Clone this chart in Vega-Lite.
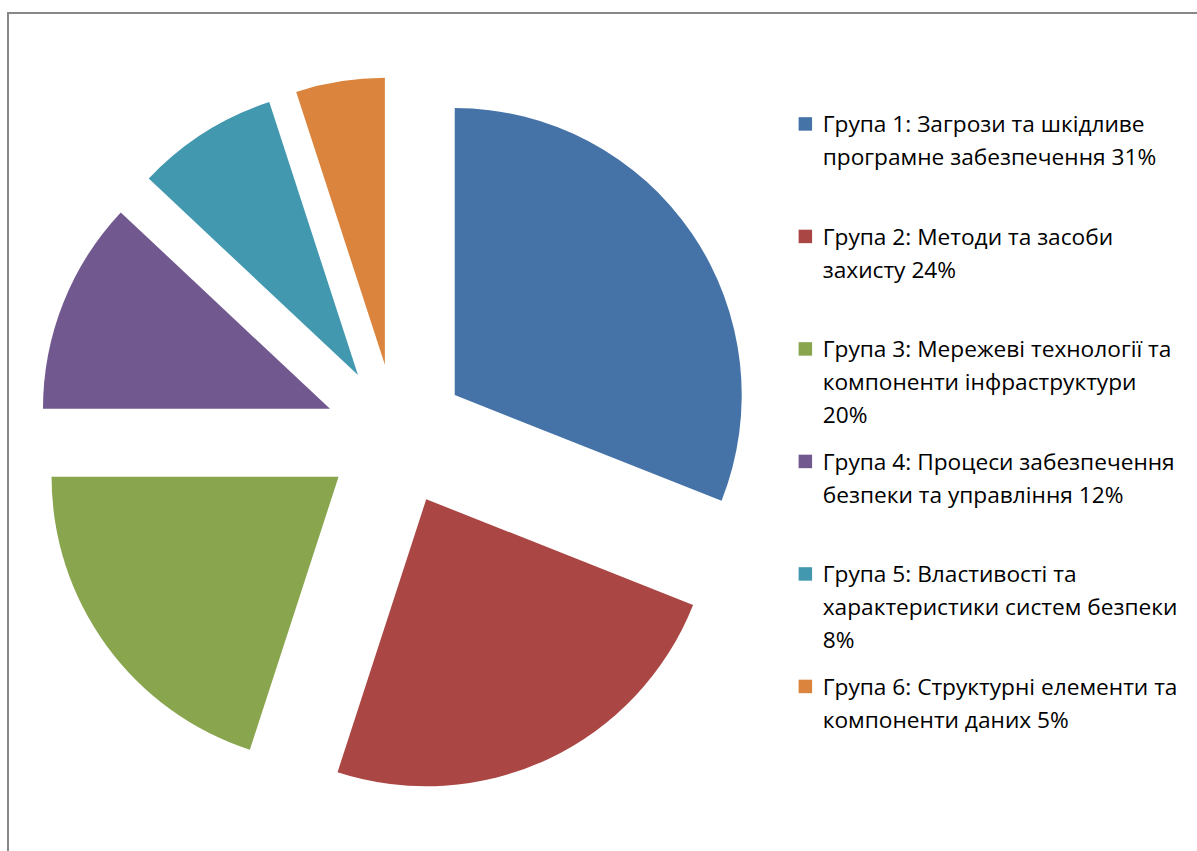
{
  "$schema": "https://vega.github.io/schema/vega-lite/v6.json",
  "width": 1189,
  "height": 838,
  "padding": {"left": 8, "top": 13, "right": 0, "bottom": 0},
  "autosize": {"type": "none"},
  "background": "white",
  "view": {"stroke": "#878787", "strokeWidth": 2, "strokeDash": [1189, 2027, 838]},
  "data": {
    "values": [
      {"group": "Група 1: Загрози та шкідливе програмне забезпечення", "pct": 31},
      {"group": "Група 2: Методи та засоби захисту", "pct": 24},
      {"group": "Група 3: Мережеві технології та компоненти інфраструктури", "pct": 20},
      {"group": "Група 4: Процеси забезпечення безпеки та управління", "pct": 12},
      {"group": "Група 5: Властивості та характеристики систем безпеки", "pct": 8},
      {"group": "Група 6: Структурні елементи та компоненти даних", "pct": 5}
    ]
  },
  "mark": {
    "type": "arc",
    "outerRadius": 287,
    "x": {"expr": "width*388/1189"},
    "y": {"expr": "height*422/838"},
    "xOffset": {"expr": "71*sin(scale('theta',(datum.pct_start+datum.pct_end)/2))"},
    "yOffset": {"expr": "-71*cos(scale('theta',(datum.pct_start+datum.pct_end)/2))"}
  },
  "encoding": {
    "theta": {"field": "pct", "type": "quantitative", "stack": true},
    "order": {"field": "group", "type": "nominal"},
    "color": {
      "field": "group",
      "type": "nominal",
      "scale": {"range": ["#4572A7", "#AA4643", "#89A54E", "#71588F", "#4198AF", "#DB843D"]},
      "legend": {
        "title": null,
        "orient": "none",
        "direction": "vertical",
        "legendX": 786,
        "legendY": 90,
        "padding": 0,
        "rowPadding": 11.5,
        "symbolType": "M-1,0.42H1V2.42H-1Z",
        "symbolSize": 182,
        "symbolStrokeWidth": 0,
        "labelFont": "Open Sans",
        "labelFontSize": 22.7,
        "labelColor": "#000000",
        "labelBaseline": "top",
        "labelOffset": 6,
        "labelLimit": 600,
        "labelExpr": "substring(datum.value,0,7)=='Група 1' ? ['Група 1: Загрози та шкідливе','програмне забезпечення 31%',''] : substring(datum.value,0,7)=='Група 2' ? ['Група 2: Методи та засоби','захисту 24%',''] : substring(datum.value,0,7)=='Група 3' ? ['Група 3: Мережеві технології та','компоненти інфраструктури','20%'] : substring(datum.value,0,7)=='Група 4' ? ['Група 4: Процеси забезпечення','безпеки та управління 12%',''] : substring(datum.value,0,7)=='Група 5' ? ['Група 5: Властивості та','характеристики систем безпеки','8%'] : ['Група 6: Структурні елементи та','компоненти даних 5%','']"
      }
    }
  },
  "config": {
    "style": {"guide-label": {"lineHeight": 33}}
  }
}
